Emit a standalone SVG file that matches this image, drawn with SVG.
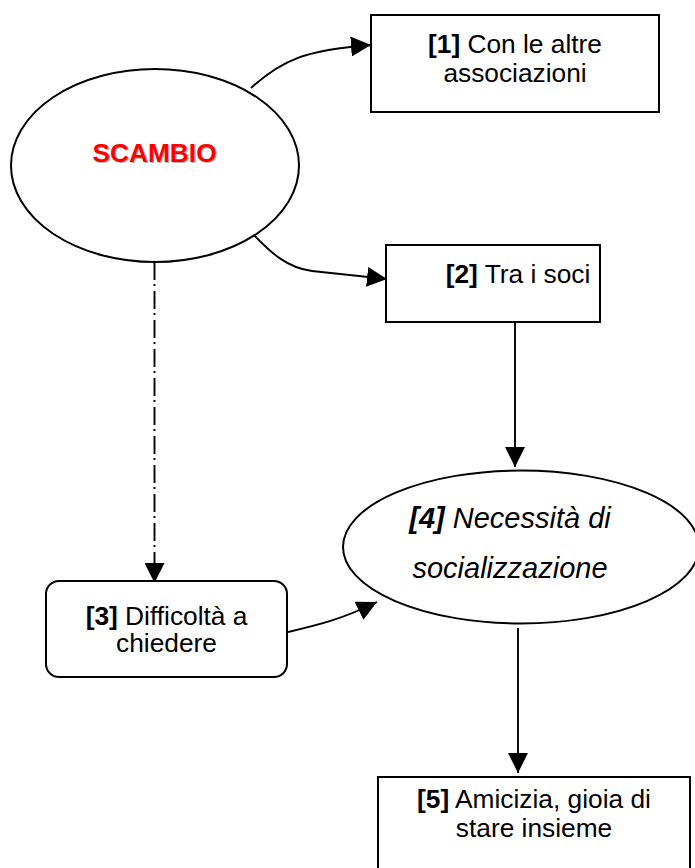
<svg xmlns="http://www.w3.org/2000/svg" width="695" height="868" viewBox="0 0 695 868">
  <style>
    .shape { fill: #ffffff; stroke: #000000; stroke-width: 2; }
    .link { fill: none; stroke: #000000; stroke-width: 1.9; }
    .dashdot { stroke-dasharray: 18 4 2 5; }
    .label { font-family: "Liberation Sans", Arial, sans-serif; font-size: 26.3px; fill: #000000; text-anchor: middle; }
    .big { font-size: 29px; font-style: italic; }
    .b { font-weight: bold; }
    .title { font-family: "Liberation Sans", Arial, sans-serif; font-size: 26.3px; font-weight: bold; text-anchor: middle; }
  </style>
  <defs>
    <marker id="head" markerUnits="userSpaceOnUse" markerWidth="20" markerHeight="20" refX="20" refY="10" orient="auto" viewBox="0 0 20 20">
      <path d="M0,0 L20,10 L0,20 z" fill="#000000"/>
    </marker>
  </defs>

  <rect width="695" height="868" fill="#ffffff"/>

  <!-- connectors -->
  <g id="connectors">
    <path class="link" d="M251,88 C282,60 305,50 371,45" marker-end="url(#head)"/>
    <path class="link" d="M253,234 C272,254 288,268 312,271 L387,279" marker-end="url(#head)"/>
    <path class="link dashdot" d="M154.5,262 L154.5,583" marker-end="url(#head)"/>
    <path class="link" d="M515,322 L515,467" marker-end="url(#head)"/>
    <path class="link" d="M288,632 C318,625 340,620 377,602" marker-end="url(#head)"/>
    <path class="link" d="M518,628 L518,773" marker-end="url(#head)"/>
  </g>

  <!-- central topic -->
  <g id="scambio">
    <ellipse class="shape" cx="155" cy="165.5" rx="144" ry="96.5"/>
    <text class="title" x="155.6" y="163.2" fill="#b4b4b4">SCAMBIO</text>
    <text class="title" x="154.5" y="162" fill="#ff0000">SCAMBIO</text>
  </g>

  <g id="node1">
    <rect class="shape" x="371" y="15" width="288" height="97"/>
    <text class="label" x="515" y="53"><tspan class="b">[1]</tspan> Con le altre</text>
    <text class="label" x="515" y="82">associazioni</text>
  </g>

  <g id="node2">
    <rect class="shape" x="386" y="245" width="214" height="77"/>
    <text class="label" x="518" y="283"><tspan class="b">[2]</tspan> Tra i soci</text>
  </g>

  <g id="node3">
    <rect class="shape" x="46" y="581" width="241" height="96" rx="13" ry="13"/>
    <text class="label" x="166.5" y="625"><tspan class="b">[3]</tspan> Difficoltà a</text>
    <text class="label" x="166.5" y="652">chiedere</text>
  </g>

  <g id="node4">
    <ellipse class="shape" cx="521" cy="547" rx="178" ry="76.5"/>
    <text class="label big" x="510" y="528"><tspan class="b">[4]</tspan> Necessità di</text>
    <text class="label big" x="510" y="578">socializzazione</text>
  </g>

  <g id="node5">
    <rect class="shape" x="378" y="777" width="312" height="110"/>
    <text class="label" x="534" y="808"><tspan class="b">[5]</tspan> Amicizia, gioia di</text>
    <text class="label" x="534" y="837">stare insieme</text>
  </g>
</svg>
